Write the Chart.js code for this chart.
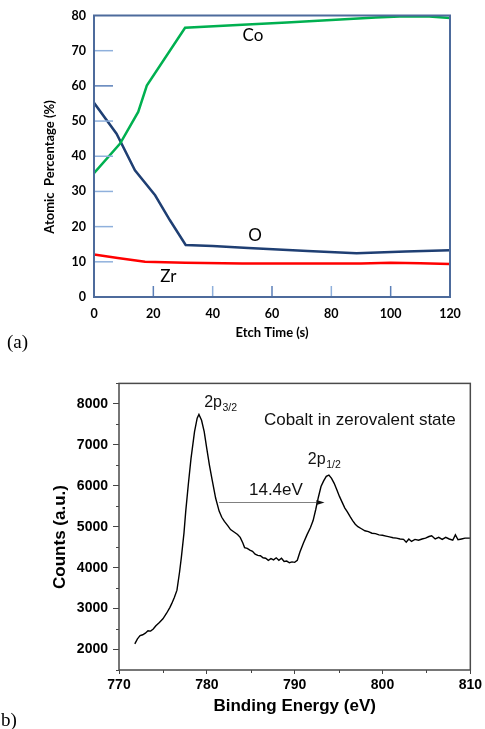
<!DOCTYPE html>
<html><head><meta charset="utf-8">
<script src="https://cdn.jsdelivr.net/npm/chart.js@4.4.0/dist/chart.umd.min.js"></script>
<style>
html,body{margin:0;padding:0;background:#fff;width:485px;height:729px;overflow:hidden;}
canvas{position:absolute;left:0;}
</style></head><body>
<canvas id="ca" width="485" height="360" style="top:0;width:485px;height:360px"></canvas>
<canvas id="cb" width="485" height="359" style="top:370px;width:485px;height:359px"></canvas>
<script>
// ---------- (a) depth profile ----------
const timeCo = [0, 8.8, 14.9, 17.8, 30.7, 50, 65, 80, 95, 105, 113, 120];
const valCo  = [35.2, 43.6, 52.6, 60.1, 76.5, 77.4, 78, 78.7, 79.4, 79.8, 79.7, 79.3];
const timeO  = [0, 7.6, 13.8, 20.6, 25.6, 30.9, 40, 52, 72, 88.5, 105, 120];
const valO   = [55.2, 46.4, 36, 28.9, 21.8, 14.8, 14.5, 13.9, 13.1, 12.4, 12.9, 13.3];
const timeZr = [0, 8, 17.2, 30.7, 50, 70, 90, 100, 110, 120];
const valZr  = [12.1, 11.1, 10, 9.7, 9.55, 9.5, 9.55, 9.7, 9.6, 9.4];
const etchTicks = [0, 20, 40, 60, 80, 100, 120];
const pctTicks  = [0, 10, 20, 30, 40, 50, 60, 70, 80];
const seriesLabelsA = [
  {text: 'Co', t: 53.6, v: 74.3},
  {text: 'O',  t: 54.3, v: 17.6},
  {text: 'Zr', t: 25.1, v: 5.7}
];

// ---------- (b) XPS spectrum ----------
const energy = [
 771.8,772.1,772.4,772.7,773.0,773.3,773.6,773.9,774.2,774.6,
 775.0,775.4,775.8,776.0,776.3,776.6,776.9,777.1,777.4,777.6,
 777.9,778.2,778.6,778.9,779.1,779.4,779.7,780.0,780.3,780.6,
 781.0,781.4,781.7,782.0,782.4,782.7,783.1,783.5,783.8,784.1,
 784.3,784.6,784.9,785.2,785.5,785.8,786.1,786.4,786.7,787.0,
 787.3,787.6,787.9,788.2,788.5,788.8,789.1,789.4,789.7,790.0,
 790.3,790.6,791.0,791.4,791.8,792.1,792.4,792.7,793.0,793.3,
 793.6,793.9,794.2,794.5,794.8,795.1,795.4,795.7,796.0,796.3,
 796.6,796.9,797.2,797.6,798.0,798.4,798.8,799.2,799.6,800.0,
 800.4,800.8,801.2,801.6,802.0,802.4,802.7,803.0,803.3,803.7,
 804.1,804.5,804.9,805.3,805.6,806.0,806.4,806.8,807.2,807.6,
 808.0,808.3,808.6,809.0,809.4,810.0];
const counts = [
 2140,2260,2340,2360,2400,2460,2450,2500,2580,2660,
 2750,2880,3030,3120,3270,3450,3900,4250,4850,5380,
 6050,6670,7320,7650,7740,7600,7320,6900,6500,6150,
 5700,5380,5230,5130,5020,4930,4870,4810,4740,4600,
 4490,4470,4430,4400,4330,4300,4290,4240,4230,4180,
 4220,4190,4240,4180,4230,4150,4160,4120,4140,4130,
 4180,4380,4600,4800,4980,5150,5420,5720,5980,6120,
 6230,6260,6180,6060,5900,5740,5600,5460,5360,5250,
 5150,5060,5000,4950,4900,4880,4840,4830,4800,4790,
 4770,4750,4730,4720,4700,4690,4620,4700,4640,4690,
 4670,4700,4720,4760,4780,4700,4740,4690,4740,4700,
 4670,4800,4680,4700,4720,4720];
const energyTicks = [770, 780, 790, 800, 810];
const countTicks = [2000, 3000, 4000, 5000, 6000, 7000, 8000];
const splitting = {from: 781.4, to: 793.4, at: 5600, label: '14.4eV'};
const peakLabels = [
  {main: '2p', sub: '3/2', e: 779.7, c: 8040},
  {main: '2p', sub: '1/2', e: 791.5, c: 6640}
];
const noteB = {text: 'Cobalt in zerovalent state', e: 786.5, c: 7590};

function pairs(xs, ys){ return xs.map((x,i)=>({x:x, y:ys[i]})); }
const plain = v => String(v);

function draw(){
  Chart.defaults.color = '#000';
  Chart.defaults.animation = false;

  // ---------------- chart (a) ----------------
  const frameA = {
    id: 'frameA',
    afterDatasetsDraw(chart){
      const ctx = chart.ctx, a = chart.chartArea;
      const xs = chart.scales.x, ys = chart.scales.y;
      ctx.save();
      ctx.lineWidth = 1.5;
      pctTicks.slice(1, -1).forEach((v, i) => {
        const y = ys.getPixelForValue(v);
        ctx.strokeStyle = (i === 5) ? '#5b7fb8' : '#8fb0dc';
        ctx.beginPath(); ctx.moveTo(a.left, y); ctx.lineTo(a.left + 19, y); ctx.stroke();
      });
      etchTicks.slice(1, -1).forEach((v, i) => {
        const x = xs.getPixelForValue(v);
        ctx.strokeStyle = (i % 2 === 0) ? '#5b7fb8' : '#8fb0dc';
        ctx.beginPath(); ctx.moveTo(x, a.bottom); ctx.lineTo(x, a.bottom - 11); ctx.stroke();
      });
      ctx.strokeStyle = '#4d6b9c';
      ctx.lineWidth = 2;
      ctx.strokeRect(a.left, a.top, a.right - a.left, a.bottom - a.top);
      ctx.fillStyle = '#000';
      ctx.font = '17px Lato';
      ctx.textAlign = 'center'; ctx.textBaseline = 'middle';
      seriesLabelsA.forEach(l => ctx.fillText(l.text, xs.getPixelForValue(l.t), ys.getPixelForValue(l.v)));
      // y title
      ctx.save();
      ctx.translate(50, 167); ctx.rotate(-Math.PI/2);
      ctx.font = 'bold 13px Lato';
      ctx.fillText('Atomic  Percentage (%)', 0, 0);
      ctx.restore();
      ctx.font = '19px "Liberation Serif"';
      ctx.textAlign = 'left';
      ctx.fillText('(a)', 7, 343);
      ctx.restore();
    }
  };

  new Chart(document.getElementById('ca'), {
    type: 'line',
    data: {
      datasets: [
        {label: 'Co', data: pairs(timeCo, valCo), borderColor: '#00b050', borderWidth: 2.5, pointRadius: 0, tension: 0},
        {label: 'O',  data: pairs(timeO, valO),   borderColor: '#1f3f73', borderWidth: 2.5, pointRadius: 0, tension: 0},
        {label: 'Zr', data: pairs(timeZr, valZr), borderColor: '#ff0000', borderWidth: 2.5, pointRadius: 0, tension: 0}
      ]
    },
    options: {
      responsive: false,
      animation: false,
      layout: {padding: {top: 12, right: 35, left: 0, bottom: 0}},
      plugins: {legend: {display: false}, tooltip: {enabled: false}},
      scales: {
        x: {
          type: 'linear', min: 0, max: 120,
          afterBuildTicks: s => { s.ticks = etchTicks.map(v => ({value: v})); },
          afterFit: s => { s.height = 63; },
          grid: {display: false, drawTicks: false},
          border: {display: false},
          ticks: {font: {family: 'Lato', weight: 'bold', size: 12.5}, padding: 9, color: '#000', callback: plain},
          title: {display: true, text: 'Etch Time (s)', font: {family: 'Lato', weight: 'bold', size: 13}, padding: {top: 0, bottom: 19}, color: '#000'}
        },
        y: {
          type: 'linear', min: 0, max: 80,
          afterBuildTicks: s => { s.ticks = pctTicks.map(v => ({value: v})); },
          afterFit: s => { s.width = 94; },
          grid: {display: false, drawTicks: false},
          border: {display: false},
          ticks: {font: {family: 'Lato', weight: 'bold', size: 12.5}, padding: 8, color: '#000', callback: plain}
        }
      }
    },
    plugins: [frameA]
  });

  // ---------------- chart (b) ----------------
  const frameB = {
    id: 'frameB',
    afterDatasetsDraw(chart){
      const ctx = chart.ctx, a = chart.chartArea;
      const xs = chart.scales.x, ys = chart.scales.y;
      ctx.save();
      ctx.strokeStyle = '#444';
      ctx.lineWidth = 1;
      for (let v = 1500; v <= 8500; v += 500) {
        if (v % 1000 === 0) continue;
        const y = Math.round(ys.getPixelForValue(v)) + 0.5;
        ctx.beginPath(); ctx.moveTo(a.left - 3, y); ctx.lineTo(a.left, y); ctx.stroke();
      }
      for (let v = 775; v < 810; v += 10) {
        const x = Math.round(xs.getPixelForValue(v)) + 0.5;
        ctx.beginPath(); ctx.moveTo(x, a.bottom); ctx.lineTo(x, a.bottom + 3); ctx.stroke();
      }
      ctx.lineWidth = 1.5;
      ctx.strokeStyle = '#4a4a4a';
      ctx.strokeRect(a.left, a.top, a.right - a.left, a.bottom - a.top);

      // splitting arrow
      const x1 = xs.getPixelForValue(splitting.from), x2 = xs.getPixelForValue(splitting.to);
      const ya = Math.round(ys.getPixelForValue(splitting.at)) + 0.5;
      ctx.strokeStyle = '#808080'; ctx.lineWidth = 1.2;
      ctx.beginPath(); ctx.moveTo(x1, ya); ctx.lineTo(x2 - 6, ya); ctx.stroke();
      ctx.fillStyle = '#111';
      ctx.beginPath(); ctx.moveTo(x2, ya); ctx.lineTo(x2 - 8, ya - 2.5); ctx.lineTo(x2 - 8, ya + 2.5); ctx.closePath(); ctx.fill();

      ctx.fillStyle = '#111';
      ctx.textBaseline = 'middle'; ctx.textAlign = 'left';
      ctx.font = '17px "Liberation Sans"';
      ctx.fillText(splitting.label, xs.getPixelForValue(784.8), ys.getPixelForValue(5890));
      ctx.fillText(noteB.text, xs.getPixelForValue(noteB.e), ys.getPixelForValue(noteB.c));
      peakLabels.forEach(p => {
        const px = xs.getPixelForValue(p.e), py = ys.getPixelForValue(p.c);
        ctx.font = '16px "Liberation Sans"';
        ctx.fillText(p.main, px, py);
        const w = ctx.measureText(p.main).width;
        ctx.font = '10.5px "Liberation Sans"';
        ctx.fillText(p.sub, px + w + 0.5, py + 5.5);
      });
      // y title
      ctx.save();
      ctx.fillStyle = '#000';
      ctx.translate(60, 167); ctx.rotate(-Math.PI/2);
      ctx.textAlign = 'center';
      ctx.font = 'bold 17px "Liberation Sans"';
      ctx.fillText('Counts (a.u.)', 0, 0);
      ctx.restore();
      ctx.fillStyle = '#000';
      ctx.font = '19px "Liberation Serif"';
      ctx.textAlign = 'left';
      ctx.fillText('b)', 1, 351);
      ctx.restore();
    }
  };

  new Chart(document.getElementById('cb'), {
    type: 'line',
    data: {
      datasets: [
        {label: 'Co 2p', data: pairs(energy, counts), borderColor: '#000', borderWidth: 1.4, pointRadius: 0, tension: 0}
      ]
    },
    options: {
      responsive: false,
      animation: false,
      layout: {padding: {top: 12, right: 12, left: 0, bottom: 0}},
      plugins: {legend: {display: false}, tooltip: {enabled: false}},
      scales: {
        x: {
          type: 'linear', min: 770, max: 810,
          afterBuildTicks: s => { s.ticks = energyTicks.map(v => ({value: v})); },
          afterFit: s => { s.height = 59; },
          grid: {display: true, drawOnChartArea: false, drawTicks: true, tickLength: 4, color: '#444'},
          border: {display: false},
          ticks: {font: {family: 'Liberation Sans', weight: 'bold', size: 14}, padding: 3, color: '#000', callback: plain},
          title: {display: true, text: 'Binding Energy (eV)', font: {family: 'Liberation Sans', weight: 'bold', size: 17}, padding: {top: 0, bottom: 12}, color: '#000'}
        },
        y: {
          type: 'linear', min: 1500, max: 8500,
          afterBuildTicks: s => { s.ticks = countTicks.map(v => ({value: v})); },
          afterFit: s => { s.width = 119; },
          grid: {display: true, drawOnChartArea: false, drawTicks: true, tickLength: 6, color: '#444'},
          border: {display: false},
          ticks: {font: {family: 'Liberation Sans', weight: 'bold', size: 14}, padding: 5, color: '#000', callback: plain}
        }
      }
    },
    plugins: [frameB]
  });
}

const fontLoads = ['bold 12px Lato', '17px Lato', 'bold 14px "Liberation Sans"', '17px "Liberation Sans"', '19px "Liberation Serif"']
  .map(f => document.fonts.load(f).catch(() => null));
Promise.all(fontLoads).then(draw, draw);
</script>
</body></html>
